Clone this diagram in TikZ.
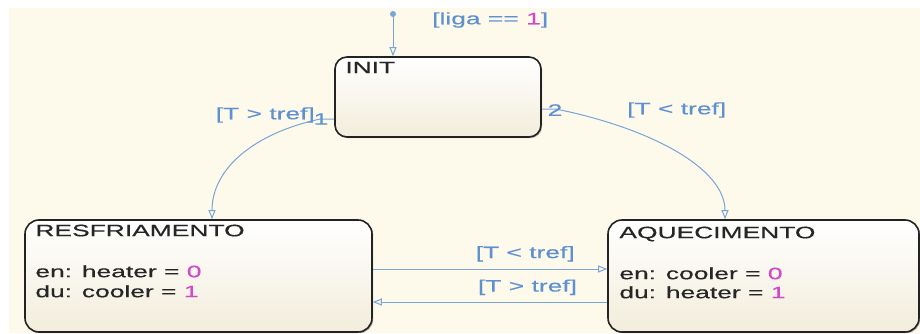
\documentclass[tikz,border=0pt]{standalone}
\usepackage{fontspec}
\usepackage{xcolor}
\usetikzlibrary{arrows.meta, positioning, shadows}

\newfontfamily\chartfont[FakeStretch=1.6, FakeBold=0.4]{Liberation Sans}

\definecolor{paper}{RGB}{253,250,236}
\definecolor{stateedge}{RGB}{35,35,35}
\definecolor{statebot}{RGB}{242,237,219}
\definecolor{transblue}{RGB}{120,164,214}
\definecolor{guardblue}{RGB}{95,145,208}
\definecolor{valmag}{RGB}{212,72,200}

\newcommand{\val}[1]{\textcolor{valmag}{#1}}

\begin{document}
\begin{tikzpicture}[x=1pt, y=1pt,
  state/.style={draw=stateedge, line width=1.6pt, rounded corners=14pt,
                top color=white, bottom color=statebot, inner sep=0pt,
                drop shadow={shadow xshift=1.2pt, shadow yshift=-1.2pt,
                             opacity=.3, fill=black}},
  trans/.style={-{Triangle[open, length=9pt, width=7pt]}, transblue,
                line width=1pt},
  guard/.style={text=guardblue, inner sep=0pt},
  txt/.style={text=black!85, inner sep=0pt},
  font=\chartfont\fontsize{16.5}{20.5}\selectfont
]
\useasboundingbox (0,0) rectangle (920,333);
\fill[paper] (9,0) rectangle (920,325);

% states
\node[state, rounded corners=12pt, minimum width=206pt, minimum height=80pt]
  (init) at (438,236) {};
\node[state, minimum width=347pt, minimum height=112pt] (resf) at (198.5,57) {};
\node[state, minimum width=311pt, minimum height=112pt] (aquec) at (763.5,57) {};

\node[txt, anchor=base west] (inittitle) at ([xshift=11pt, yshift=-17pt]init.north west) {INIT};

\node[txt, anchor=base west] (resftitle) at ([xshift=11pt, yshift=-17pt]resf.north west) {RESFRIAMENTO};
\node[txt, anchor=base west] (resfen) at ([yshift=-41pt]resftitle.base west) {en: heater = \val{0}};
\node[txt, anchor=base west] (resfdu) at ([yshift=-20pt]resfen.base west) {du: cooler = \val{1}};

\node[txt, anchor=base west] (aquectitle) at ([xshift=12pt, yshift=-19pt]aquec.north west) {AQUECIMENTO};
\node[txt, anchor=base west] (aquecen) at ([yshift=-41pt]aquectitle.base west) {en: cooler = \val{0}};
\node[txt, anchor=base west] (aquecdu) at ([yshift=-19pt]aquecen.base west) {du: heater = \val{1}};

% default transition
\coordinate (dflt) at (393,319);
\fill[transblue] (dflt) circle (3pt);
\draw[trans] (dflt) -- (dflt |- init.north);
\node[guard, anchor=west] (dfltguard) at (432,313) {[liga == \val{1}]};

% INIT -> RESFRIAMENTO / AQUECIMENTO
\draw[trans] ([yshift=-22pt]init.west) -- ++(-14pt,0)
  .. controls (255,200) and (212,165) .. ([xshift=13.5pt]resf.north);
\node[guard] (ord1) at (321,214) {1};
\node[guard, anchor=east] (guard1) at (315,218) {[T > tref]};

\draw[trans] ([yshift=-12pt]init.east) -- ++(14pt,0)
  .. controls (650,205) and (725,165) .. ([xshift=-38.5pt]aquec.north);
\node[guard] (ord2) at (555,223) {2};
\node[guard, anchor=west] (guard2) at (627,223) {[T < tref]};

% RESFRIAMENTO <-> AQUECIMENTO
\draw[trans] ([yshift=7pt]resf.east) -- ([yshift=7pt]aquec.west)
  node[guard, pos=0.65, above=7pt] (guard3) {[T < tref]};
\draw[trans] ([yshift=-26pt]aquec.west) -- ([yshift=-26pt]resf.east)
  node[guard, pos=0.34, above=6.5pt] (guard4) {[T > tref]};
\end{tikzpicture}
\end{document}
